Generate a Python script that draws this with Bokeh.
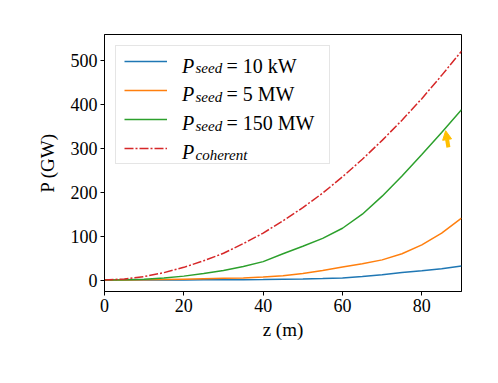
from bokeh.plotting import figure
from bokeh.models import (Range1d, FixedTicker, Legend, LegendItem, Label,
                          Arrow, NormalHead)
from bokeh.embed import file_html
from bokeh.resources import INLINE

# ---- data ----
z = [0, 5, 10, 15, 20, 25, 30, 35, 40, 45, 50, 55, 60, 65, 70, 75, 80, 85, 90]
p_10kw = [0, 0, 0.1, 0.2, 0.3, 0.5, 0.7, 1.0, 1.3, 1.8, 2.5, 3.5, 5, 8, 12, 17, 21, 26, 32]
p_5mw = [0, 0.3, 0.8, 1.2, 2, 3, 4, 5, 7, 10, 15, 22, 30, 37, 46, 60, 80, 107, 141]
p_150mw = [0, 0.5, 2, 5, 9, 15, 22, 31, 42, 60, 77, 95, 118, 150, 191, 237, 286, 336, 388]
p_coh = [0, 2.5, 8, 17, 29, 44, 61, 83, 107, 135, 165, 198, 235, 275, 318, 364, 413, 466, 521]

x_ticks = [0, 20, 40, 60, 80]
y_ticks = [0, 100, 200, 300, 400, 500]

seed_values = ["= 10 kW", "= 5 MW", "= 150 MW"]

arrow_z = [86.7, 86.0]      # tail, head
arrow_p = [302, 340]

X_RANGE = (0, 90)
Y_RANGE = (-26, 559)

SERIF = "Liberation Serif"

W, H = 490, 375
BL, BR, BT, BB = 104, 29, 34, 84

p = figure(width=W, height=H, output_backend="svg", toolbar_location=None,
           x_range=Range1d(*X_RANGE), y_range=Range1d(*Y_RANGE),
           min_border_left=BL, min_border_right=BR,
           min_border_top=BT, min_border_bottom=BB)
p.background_fill_color = "white"
p.border_fill_color = "white"
p.outline_line_color = "black"
p.outline_line_width = 1
p.xgrid.visible = False
p.ygrid.visible = False

for ax in (p.xaxis[0], p.yaxis[0]):
    ax.major_label_text_font = SERIF
    ax.major_label_text_font_size = "18px"
    ax.major_label_text_color = "black"
    ax.axis_label_text_font = SERIF
    ax.axis_label_text_font_size = "19px"
    ax.axis_label_text_font_style = "normal"
    ax.axis_label_text_color = "black"
    ax.axis_line_color = "black"
    ax.major_tick_line_color = "black"
    ax.major_tick_out = 4
    ax.major_tick_in = 0
    ax.minor_tick_line_color = None
    ax.major_label_standoff = 3

p.xaxis.ticker = FixedTicker(ticks=x_ticks)
p.yaxis.ticker = FixedTicker(ticks=y_ticks)
p.xaxis.axis_label = "z (m)"
p.yaxis.axis_label = "P (GW)"
p.xaxis.axis_label_standoff = 4
p.yaxis.axis_label_standoff = 10

r1 = p.line(z, p_10kw, line_color="#1f77b4", line_width=1.5)
r2 = p.line(z, p_5mw, line_color="#ff7f0e", line_width=1.5)
r3 = p.line(z, p_150mw, line_color="#2ca02c", line_width=1.5)
r4 = p.line(z, p_coh, line_color="#d62728", line_width=1.5, line_dash="9 2 2 2")

p.add_layout(Arrow(end=NormalHead(size=9, fill_color="#ffbf00", line_color="#ffbf00"),
                   x_start=arrow_z[0], y_start=arrow_p[0],
                   x_end=arrow_z[1], y_end=arrow_p[1],
                   line_color="#ffbf00", line_width=4))

legend = Legend(items=[LegendItem(label=" ", renderers=[r]) for r in (r1, r2, r3, r4)],
                location="top_left", margin=11, padding=8, spacing=15,
                glyph_width=43, glyph_height=14, label_height=14,
                label_standoff=10, label_width=144,
                border_line_color="#cccccc", border_line_width=1,
                background_fill_color="white", background_fill_alpha=0.0,
                label_text_font_size="1px")
p.add_layout(legend)

# ---- legend texts (math-like: italic P with subscript) ----
frame_w = W - BL - BR
frame_h = H - BT - BB


def to_data(px, py):
    """picture pixel -> data coordinates"""
    fx = px - BL
    fy = py - BT
    xd = X_RANGE[0] + fx / frame_w * (X_RANGE[1] - X_RANGE[0])
    yd = Y_RANGE[1] - fy / frame_h * (Y_RANGE[1] - Y_RANGE[0])
    return xd, yd


row_baselines = [65, 93.5, 122.5, 151.5]
subs = ["seed", "seed", "seed", "coherent"]
for i, base in enumerate(row_baselines):
    x, y = to_data(181.5, base)
    p.add_layout(Label(x=x, y=y, text="P", text_font=SERIF, text_font_style="italic",
                       text_font_size="20px", text_baseline="alphabetic",
                       text_color="black", level="overlay"))
    x, y = to_data(195, base + 2.5)
    p.add_layout(Label(x=x, y=y, text=subs[i], text_font=SERIF, text_font_style="italic",
                       text_font_size="15px", text_baseline="alphabetic",
                       text_color="black", level="overlay"))
    if i < 3:
        x, y = to_data(226, base)
        p.add_layout(Label(x=x, y=y, text=seed_values[i], text_font=SERIF,
                           text_font_size="20px", text_baseline="alphabetic",
                           text_color="black", level="overlay"))

open("out.html", "w").write(file_html(p, INLINE))
